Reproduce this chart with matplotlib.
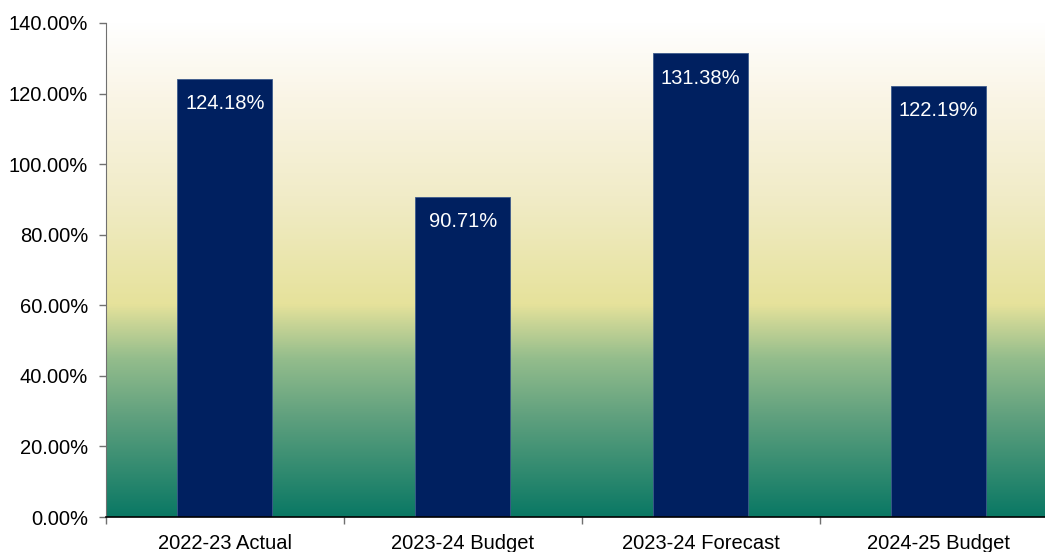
import matplotlib.pyplot as plt
import numpy as np
from matplotlib.colors import LinearSegmentedColormap
from matplotlib.ticker import FuncFormatter, FixedLocator

# Ratio by period
periods = ["2022-23 Actual", "2023-24 Budget", "2023-24 Forecast", "2024-25 Budget"]
ratios = [124.18, 90.71, 131.38, 122.19]

plt.rcParams['font.family'] = ['Liberation Sans', 'DejaVu Sans']

fig = plt.figure(figsize=(10.45, 5.52), dpi=100)
ax = fig.add_axes([0.1014, 0.0634, 0.9105, 0.895])

# Background gradient: teal at the bottom, khaki in the middle, white at the top
bg = LinearSegmentedColormap.from_list("bg", [
    (0.00, "#0a7864"),
    (0.20, "#5fa07e"),
    (0.32, "#94bd8c"),
    (0.43, "#e6e29b"),
    (0.65, "#f1ecc8"),
    (0.85, "#faf5e6"),
    (1.00, "#ffffff"),
])
grad = np.linspace(0, 1, 256).reshape(-1, 1)
ax.imshow(grad, cmap=bg, origin="lower", aspect="auto",
          extent=(-0.5, len(periods) - 0.5, 0, 140), zorder=0)

x = np.arange(len(periods))
bars = ax.bar(x, ratios, width=0.4, color="#002060", edgecolor="#3d5b8c",
              linewidth=0.6, zorder=2)

for bar, v in zip(bars, ratios):
    ax.text(bar.get_x() + bar.get_width() / 2, v - 4.3, f"{v:.2f}%",
            ha="center", va="top", color="white", fontsize=14.5, zorder=3)

ax.set_xlim(-0.5, len(periods) - 0.5)
ax.set_ylim(0, 140)
ax.set_yticks(np.arange(0, 141, 20))
ax.yaxis.set_major_formatter(FuncFormatter(lambda v, _: f"{v:.2f}%"))

ax.set_xticks(x)
ax.set_xticklabels(periods)
ax.xaxis.set_minor_locator(FixedLocator(np.arange(-0.5, len(periods), 1.0)))
ax.tick_params(axis="x", which="major", length=0, pad=12, labelsize=14.5)
ax.tick_params(axis="x", which="minor", length=5, color="#707070", width=1)
ax.tick_params(axis="y", length=5, color="#707070", width=1, pad=8, labelsize=14.5)

for side in ("top", "right"):
    ax.spines[side].set_visible(False)
ax.spines["left"].set_color("#707070")
ax.spines["bottom"].set_color("black")
ax.spines["bottom"].set_linewidth(1.2)

fig.savefig("out.png", dpi=100)
